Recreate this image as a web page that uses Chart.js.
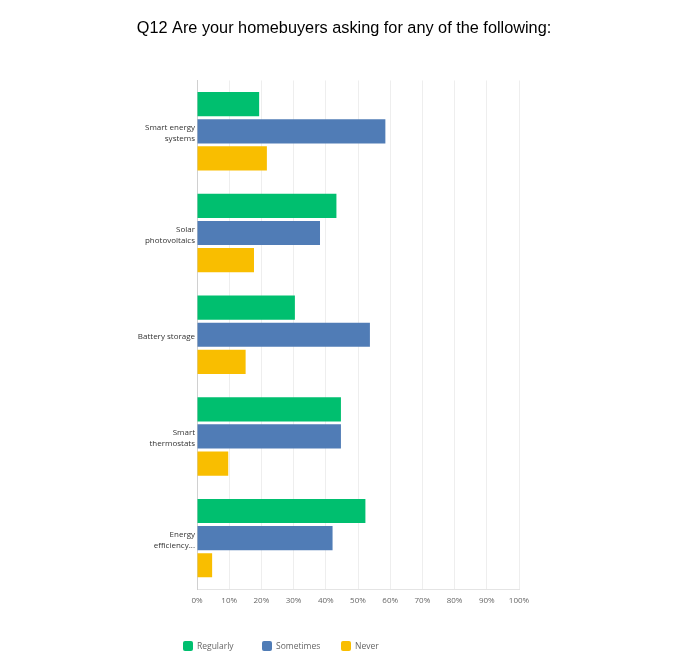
<!DOCTYPE html>
<html>
<head>
<meta charset="utf-8">
<script src="https://cdn.jsdelivr.net/npm/chart.js@4/dist/chart.umd.min.js"></script>
<style>
  html, body { margin: 0; padding: 0; background: #fff; }
  #wrap { position: relative; width: 688px; height: 670px; }
  #legend { position: absolute; left: 183px; top: 638px; height: 16px; font-family: "Open Sans", sans-serif; font-size: 8.5px; color: #666; }
  .item { position: absolute; top: 0; white-space: nowrap; line-height: 16px; }
  .box { position: absolute; left: 0; top: 3px; width: 10px; height: 10px; border-radius: 2px; }
  .lbl { position: absolute; left: 14px; top: 0; }
</style>
</head>
<body>
<div id="wrap">
  <canvas id="c" width="688" height="670"></canvas>
  <div id="legend"></div>
</div>
<script>
const title = 'Q12 Are your homebuyers asking for any of the following:';
const categories = [
  ['Smart energy', 'systems'],
  ['Solar', 'photovoltaics'],
  ['Battery storage'],
  ['Smart', 'thermostats'],
  ['Energy', 'efficiency...']
];
const seriesNames = ['Regularly', 'Sometimes', 'Never'];
const regularly = [19.3, 43.3, 30.4, 44.7, 52.3];
const sometimes = [58.5, 38.2, 53.7, 44.7, 42.1];
const never = [21.7, 17.7, 15.1, 9.7, 4.7];
const xTicks = [0, 10, 20, 30, 40, 50, 60, 70, 80, 90, 100];

const colors = ['#00BF6F', '#507CB6', '#F9BE00'];
const values = [regularly, sometimes, never];

const chart = new Chart(document.getElementById('c'), {
  type: 'bar',
  data: {
    labels: categories,
    datasets: seriesNames.map((n, i) => ({
      label: n,
      data: values[i],
      backgroundColor: colors[i],
      borderWidth: 0,
      categoryPercentage: 0.8,
      barPercentage: 0.89
    }))
  },
  options: {
    indexAxis: 'y',
    responsive: false,
    animation: false,
    layout: { padding: 0 },
    plugins: {
      legend: { display: false },
      tooltip: { enabled: false },
      title: {
        display: true,
        text: title,
        color: '#000',
        font: { family: 'Liberation Sans, Arial, sans-serif', size: 16.3, weight: 'normal', lineHeight: 1.2 },
        padding: { top: 18.5, bottom: 42.4 }
      }
    },
    scales: {
      x: {
        min: 0, max: 100,
        afterBuildTicks: (s) => { s.ticks = xTicks.map(v => ({ value: v })); },
        ticks: {
          callback: (v) => v + '%',
          color: '#666',
          font: { family: 'Open Sans, sans-serif', size: 8 },
          padding: 7,
          maxRotation: 0
        },
        grid: { color: '#eeeeee', drawTicks: false, lineWidth: 1 },
        border: { display: true, color: '#e4e4e4' },
        afterFit: (s) => { s.height = 81; }
      },
      y: {
        ticks: {
          color: '#333',
          font: { family: 'Open Sans, sans-serif', size: 8, lineHeight: 1.375 },
          padding: 2,
          labelOffset: 2
        },
        grid: { display: false, drawTicks: false },
        border: { display: true, color: '#d0d0d0' },
        afterFit: (s) => { s.width = 197; }
      },
      yRight: {
        type: 'linear',
        position: 'right',
        display: true,
        ticks: { display: false },
        grid: { display: false, drawTicks: false },
        border: { display: false },
        afterFit: (s) => { s.width = 169; }
      }
    }
  }
});

const legend = document.getElementById('legend');
chart.data.datasets.forEach((ds, i) => {
  const it = document.createElement('div');
  it.className = 'item';
  it.style.left = (i * 79) + 'px';
  const b = document.createElement('span');
  b.className = 'box';
  b.style.background = ds.backgroundColor;
  const t = document.createElement('span');
  t.className = 'lbl';
  t.textContent = ds.label;
  it.appendChild(b); it.appendChild(t);
  legend.appendChild(it);
});
</script>
</body>
</html>
